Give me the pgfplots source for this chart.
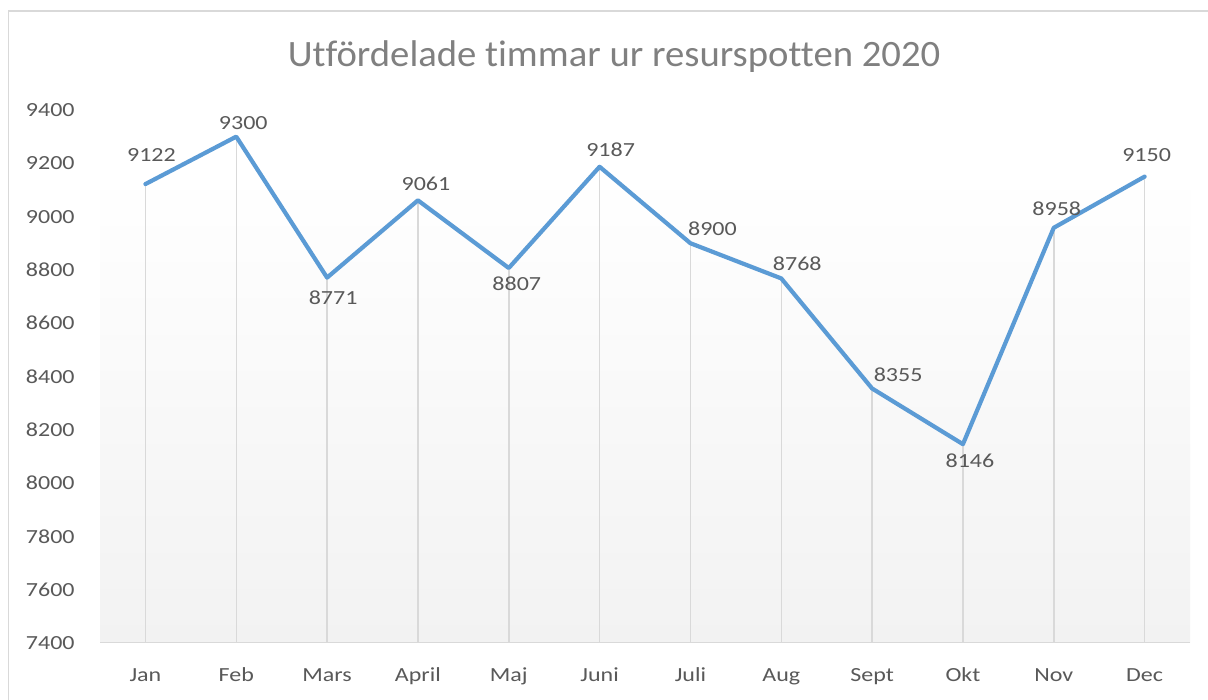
\documentclass[border=0pt]{standalone}
\usepackage{pgfplots}
\pgfplotsset{compat=1.18}
\usepackage{pgfplotstable}
\usepackage{fontspec}
\setmainfont{Carlito}
\newfontfamily\labfont[FakeStretch=1.2]{Carlito}
\newfontfamily\titlefont[FakeStretch=1.04, RawFeature={-liga;-clig;-dlig}]{Carlito}
\definecolor{lineblue}{RGB}{91,155,213}
\definecolor{gridgray}{RGB}{217,217,217}
\definecolor{labgray}{RGB}{89,89,89}
\definecolor{titlegray}{RGB}{128,128,128}
\definecolor{bggray}{RGB}{242,242,242}
\pgfplotstableread{
x y dx dy
0 9122 3 14.5
1 9300 3.5 6.75
2 8771 3 -10
3 9061 4 8.5
4 8807 4 -8
5 9187 5.5 8.5
6 8900 11 7.5
7 8768 8 7.5
8 8355 13 7
9 8146 3.5 -8.5
10 8958 1.5 9.5
11 9150 1 11
}\datatable
\begin{document}
\begin{tikzpicture}
\useasboundingbox (0,0) rectangle (604pt,350pt);
\fill[white] (0,0) rectangle (604pt,350pt);
\draw[gridgray, line width=0.75pt] (4.25pt,0) -- (4.25pt,344.5pt) -- (604pt,344.5pt);
\begin{axis}[
  at={(50pt,28.5pt)}, anchor=south west,
  scale only axis, width=545pt, height=266.5pt,
  xmin=-0.5, xmax=11.5, ymin=7400, ymax=9400,
  ytick={7400,7600,...,9400},
  xtick={0,...,11},
  xticklabels={Jan,Feb,Mars,April,Maj,Juni,Juli,Aug,Sept,Okt,Nov,Dec},
  axis line style={draw=none},
  major tick length=0pt,
  /pgf/number format/assume math mode=true,
  /pgf/number format/1000 sep={},
  tick label style={font=\labfont\fontsize{10}{12}\selectfont, text=labgray},
  yticklabel style={anchor=east, inner sep=0pt, xshift=-12.5pt},
  xticklabel style={anchor=base, yshift=-19.5pt},
  clip=true,
]
\fill[top color=white, bottom color=bggray] (axis cs:-0.5,7400) rectangle (axis cs:11.5,9171);
\draw[gridgray, line width=0.75pt] (axis cs:-0.5,7400) -- (axis cs:11.5,7400);
\addplot[ycomb, draw=gridgray, line width=0.75pt, mark=none] table[x=x, y=y] {\datatable};
\addplot[lineblue, line width=2.1pt, line join=round, line cap=round, mark=none,
  visualization depends on={\thisrow{dx} \as \dx},
  visualization depends on={\thisrow{dy} \as \dy},
  nodes near coords,
  nodes near coords style={anchor=center, inner sep=0pt, xshift=\dx pt, yshift=\dy pt, text=labgray, font=\labfont\fontsize{10}{12}\selectfont, /pgf/number format/assume math mode=true, /pgf/number format/1000 sep={}},
] table[x=x, y=y] {\datatable};
\end{axis}
\node[anchor=base, text=titlegray, font=\titlefont\fontsize{18.6}{22}\selectfont, inner sep=0pt] at (307pt,316.5pt) {Utfördelade timmar ur resurspotten 2020};
\end{tikzpicture}
\end{document}
